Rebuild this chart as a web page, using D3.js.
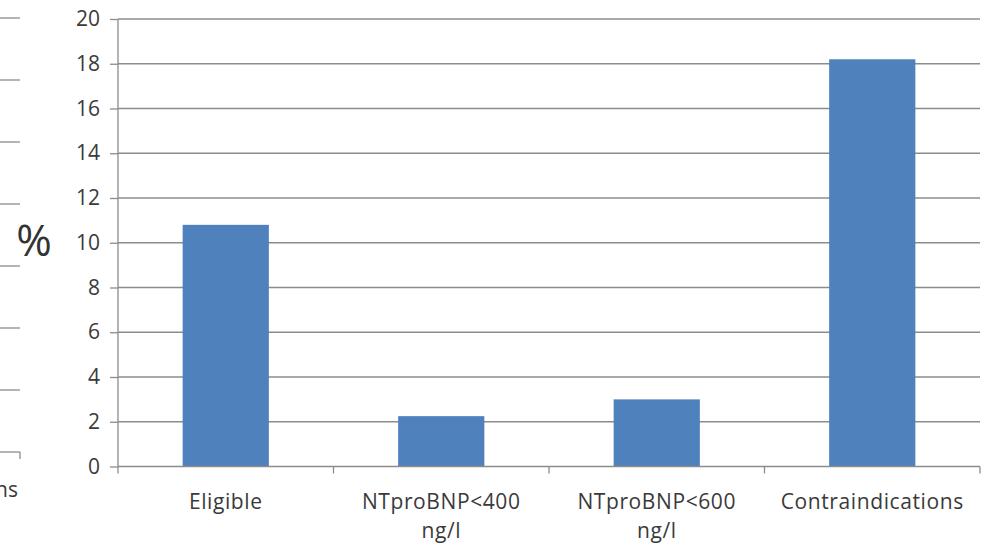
<!DOCTYPE html>
<html><head><meta charset="utf-8">
<script src="https://cdn.jsdelivr.net/npm/d3@7/dist/d3.min.js"></script>
<style>body{margin:0;background:#fff}svg{display:block}</style>
</head><body>
<svg id="c" width="988" height="546"></svg>
<script>
const categories = [["Eligible"], ["NTproBNP<400", "ng/l"], ["NTproBNP<600", "ng/l"], ["Contraindications"]];
const values = [10.8, 2.25, 3.0, 18.2];
const yTicks = [0, 2, 4, 6, 8, 10, 12, 14, 16, 18, 20];
const leftTicks = [0, 1, 2, 3, 4, 5, 6, 7];

const svg = d3.select("#c");
const font = "'Open Sans', 'Noto Sans', sans-serif";
const x0 = 118, x1 = 980, yTop = 19, yBot = 466.5;

const x = d3.scaleBand().domain(d3.range(categories.length)).range([x0, x1]).paddingInner(0.6).paddingOuter(0.3);
const y = d3.scaleLinear().domain([0, 20]).range([yBot, yTop]);

// gridlines
svg.append("g").selectAll("line").data(yTicks.filter(d => d > 0)).join("line")
  .attr("x1", x0).attr("x2", x1).attr("y1", d => y(d)).attr("y2", d => y(d))
  .attr("stroke", "#8c8c8c").attr("stroke-width", 1.3);

// bars
svg.append("g").selectAll("rect").data(values).join("rect")
  .attr("x", (d, i) => x(i)).attr("width", x.bandwidth())
  .attr("y", d => y(d)).attr("height", d => yBot - y(d))
  .attr("fill", "#4f81bd");

// y axis
const ya = svg.append("g").attr("transform", `translate(${x0},0)`)
  .call(d3.axisLeft(y).tickValues(yTicks).tickSize(8).tickPadding(10));
ya.select(".domain").attr("stroke", "#8c8c8c").attr("stroke-width", 1.3).attr("d", `M-0,${yTop}V${yBot}`);
ya.selectAll(".tick line").attr("stroke", "#8c8c8c").attr("stroke-width", 1.3);
ya.selectAll(".tick text").attr("font-family", font).attr("font-size", 21).attr("fill", "#3a3a3a");

// x axis
const xa = svg.append("g").attr("transform", `translate(0,${yBot})`);
xa.append("line").attr("x1", x0).attr("x2", x1).attr("y1", 0).attr("y2", 0).attr("stroke", "#8c8c8c").attr("stroke-width", 1.3);
const bounds = d3.range(categories.length + 1).map(i => x0 + i * x.step());
xa.selectAll("line.t").data(bounds).join("line").attr("class", "t")
  .attr("x1", d => d).attr("x2", d => d).attr("y1", 0).attr("y2", 7)
  .attr("stroke", "#8c8c8c").attr("stroke-width", 1.3);
const lab = xa.selectAll("text").data(categories).join("text")
  .attr("text-anchor", "middle").attr("font-family", font).attr("font-size", 21).attr("fill", "#3a3a3a")
  .attr("letter-spacing", 0.6)
  .attr("transform", (d, i) => `translate(${x(i) + x.bandwidth() / 2},0)`);
lab.selectAll("tspan").data(d => d).join("tspan")
  .attr("x", 0).attr("y", (d, j) => 42.5 + j * 28.5).text(d => d);

// y label
svg.append("text").attr("x", 34).attr("y", 256).attr("text-anchor", "middle")
  .attr("font-family", font).attr("font-size", 43).attr("fill", "#333").text("%");

// partial neighbouring chart at left edge
const yl = d3.scaleLinear().domain([0, 7]).range([452, 18]);
svg.append("g").selectAll("line").data(leftTicks).join("line")
  .attr("x1", 0).attr("x2", 20).attr("y1", d => yl(d)).attr("y2", d => yl(d))
  .attr("stroke", "#8c8c8c").attr("stroke-width", 1.3);
svg.append("line").attr("x1", 20).attr("x2", 20).attr("y1", yl(0)).attr("y2", yl(0) + 7)
  .attr("stroke", "#8c8c8c").attr("stroke-width", 1.3);
svg.append("text").attr("x", 18).attr("y", 497).attr("text-anchor", "end")
  .attr("font-family", font).attr("font-size", 21).attr("fill", "#3a3a3a").text("ns");
</script>
</body></html>
